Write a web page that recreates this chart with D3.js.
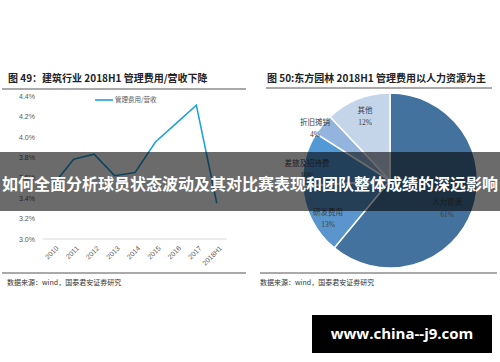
<!DOCTYPE html>
<html>
<head>
<meta charset="utf-8">
<script src="https://cdn.jsdelivr.net/npm/d3@7"></script>
<style>
  body { margin: 0; background: #fff; }
  svg { display: block; font-family: "Noto Sans CJK SC", "Noto Sans", sans-serif; }
</style>
</head>
<body>
<svg id="chart" width="500" height="362"></svg>
<script>
// left chart: ratio of admin expenses to revenue
const years = ["2010", "2011", "2012", "2013", "2014", "2015", "2016", "2017", "2018H1"];
const ratio = [3.53, 3.78, 3.83, 3.62, 3.65, 3.95, 4.13, 4.31, 3.35];
const yTicks = [3.0, 3.2, 3.4, 3.6, 3.8, 4.0, 4.2, 4.4];

// right chart: expense composition
const pieNames = ["人力资源", "研发费用", "差旅及招待费", "折旧摊销", "其他"];
const pieValues = [61, 13, 10, 4, 12];
const pieColors = ["#43729e", "#5a96cd", "#5399d6", "#93b5dd", "#c4d5ea"];

const svg = d3.select("#chart");
const textGray = "#595959";

// ---- left chart ----
const left = svg.append("g");

left.append("text")
    .attr("x", 8).attr("y", 82)
    .attr("font-size", 10).attr("font-weight", "bold").attr("fill", "#222")
    .text("图 49：建筑行业 2018H1 管理费用/营收下降");
left.append("line")
    .attr("x1", 2).attr("x2", 246).attr("y1", 89).attr("y2", 89)
    .attr("stroke", "#555").attr("stroke-width", 1);

const x = d3.scaleBand().domain(years).range([43, 227]);
const y = d3.scaleLinear().domain([3.0, 4.4]).range([239, 96]);

const yAxis = left.append("g")
    .attr("transform", "translate(38,0)")
    .call(d3.axisLeft(y).tickValues(yTicks).tickFormat(d => d.toFixed(1) + "%").tickSize(0));
yAxis.select(".domain").remove();
yAxis.selectAll("text").attr("font-size", 7).attr("fill", textGray).attr("font-family", "Liberation Sans, sans-serif");

left.append("line")
    .attr("x1", 43).attr("x2", 227).attr("y1", y(3.0)).attr("y2", y(3.0))
    .attr("stroke", "#d9d9d9");

left.append("g").selectAll("text")
    .data(years)
    .join("text")
    .attr("transform", d => `translate(${x(d) + x.bandwidth() / 2 + 4},247) rotate(-45)`)
    .attr("text-anchor", "end")
    .attr("dy", "0.35em")
    .attr("font-size", 7).attr("fill", textGray)
    .attr("font-family", "Liberation Sans, sans-serif")
    .text(d => d);

const line = d3.line()
    .x((d, i) => x(years[i]) + x.bandwidth() / 2)
    .y(d => y(d));

left.append("path")
    .datum(ratio)
    .attr("d", line)
    .attr("fill", "none")
    .attr("stroke", "#1ea2de")
    .attr("stroke-width", 1.6);

left.append("line")
    .attr("x1", 95).attr("x2", 113).attr("y1", 100).attr("y2", 100)
    .attr("stroke", "#1ea2de").attr("stroke-width", 1.6);
left.append("text")
    .attr("x", 115).attr("y", 100).attr("dy", "0.35em")
    .attr("font-size", 6.5).attr("fill", textGray)
    .text("管理费用/营收");

left.append("line")
    .attr("x1", 2).attr("x2", 246).attr("y1", 273).attr("y2", 273)
    .attr("stroke", "#555");
left.append("text")
    .attr("x", 7).attr("y", 285)
    .attr("font-size", 7).attr("fill", "#333")
    .text("数据来源：wind，国泰君安证券研究");

// ---- right chart ----
const right = svg.append("g");

right.append("text")
    .attr("x", 267).attr("y", 82)
    .attr("font-size", 10).attr("font-weight", "bold").attr("fill", "#222")
    .text("图 50:东方园林 2018H1 管理费用以人力资源为主");
right.append("line")
    .attr("x1", 266).attr("x2", 492).attr("y1", 88).attr("y2", 88)
    .attr("stroke", "#555");

const cx = 390, cy = 180.5, r = 87.5;
const pie = d3.pie().sort(null).value(d => d);
const arc = d3.arc().innerRadius(0).outerRadius(r);
const arcs = pie(pieValues);

right.append("g")
    .attr("transform", `translate(${cx},${cy})`)
    .selectAll("path")
    .data(arcs)
    .join("path")
    .attr("d", arc)
    .attr("fill", (d, i) => pieColors[i])
    .attr("stroke", "#fff")
    .attr("stroke-width", 1.5);

// label positions
const labelPos = [[447, 202], [328, 212], [307, 163], [315, 122], [365, 110]];
const labels = right.append("g").selectAll("g")
    .data(arcs)
    .join("g")
    .attr("transform", (d, i) => `translate(${labelPos[i][0]},${labelPos[i][1]})`);
labels.append("text")
    .attr("text-anchor", "middle").attr("dy", "0.35em")
    .attr("font-size", 7.5).attr("fill", "#404040")
    .text((d, i) => pieNames[i]);
labels.append("text")
    .attr("text-anchor", "middle").attr("y", 12).attr("dy", "0.35em")
    .attr("font-size", 7.5).attr("fill", "#404040")
    .attr("font-family", "Liberation Serif, serif")
    .text(d => d.data + "%");

right.append("line")
    .attr("x1", 260).attr("x2", 497).attr("y1", 273).attr("y2", 273)
    .attr("stroke", "#555");
right.append("text")
    .attr("x", 260).attr("y", 285)
    .attr("font-size", 7).attr("fill", "#333")
    .text("数据来源：wind，国泰君安证券研究");

// ---- overlay banner ----
svg.append("rect")
    .attr("x", 0).attr("y", 152).attr("width", 500).attr("height", 59)
    .attr("fill", "rgba(0,0,0,0.58)");
svg.append("text")
    .attr("x", 250).attr("y", 184).attr("dy", "0.35em")
    .attr("text-anchor", "middle")
    .attr("font-size", 16).attr("font-weight", "bold").attr("fill", "#fff")
    .attr("textLength", 496).attr("lengthAdjust", "spacingAndGlyphs")
    .text("如何全面分析球员状态波动及其对比赛表现和团队整体成绩的深远影响");

// ---- watermark ----
svg.append("rect")
    .attr("x", 312).attr("y", 315).attr("width", 180).attr("height", 38)
    .attr("fill", "#000");
svg.append("text")
    .attr("x", 402).attr("y", 334).attr("dy", "0.35em")
    .attr("text-anchor", "middle")
    .attr("font-size", 15).attr("font-weight", "bold").attr("fill", "#fff")
    .attr("font-family", "Open Sans, DejaVu Sans, sans-serif")
    .text("www.china--j9.com");
</script>
</body>
</html>
